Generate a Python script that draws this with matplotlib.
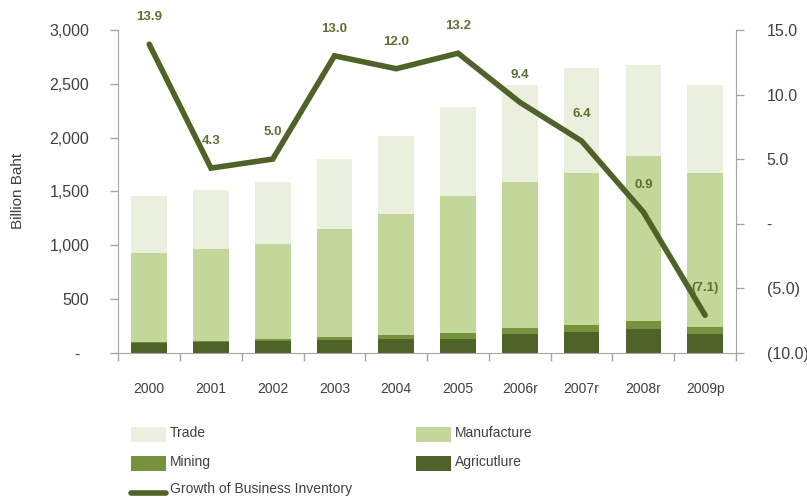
import matplotlib
matplotlib.use("Agg")
import matplotlib.pyplot as plt
from matplotlib.patches import Rectangle
from matplotlib.lines import Line2D

plt.rcParams['font.family'] = ['Liberation Sans', 'DejaVu Sans']

years = ["2000", "2001", "2002", "2003", "2004", "2005", "2006r", "2007r", "2008r", "2009p"]
agriculture = [87, 97, 106, 121, 130, 127, 174, 192, 217, 174]
mining = [12, 12, 21, 28, 35, 56, 59, 62, 81, 68]
manufacture = [825, 858, 884, 998, 1125, 1274, 1352, 1420, 1531, 1432]
trade = [533, 546, 574, 651, 725, 825, 905, 974, 847, 816]
growth = [13.9, 4.3, 5.0, 13.0, 12.0, 13.2, 9.4, 6.4, 0.9, -7.1]

left_ticks = [0, 500, 1000, 1500, 2000, 2500, 3000]
left_labels = ["-  ", "500", "1,000", "1,500", "2,000", "2,500", "3,000"]
right_ticks = [-10, -5, 0, 5, 10, 15]
right_labels = ["(10.0)", "(5.0)", "-", "5.0", "10.0", "15.0"]

c_trade = "#EBF0DE"
c_manu = "#C4D79B"
c_mining = "#76923C"
c_agri = "#4F6228"
c_line = "#4F6228"
c_label = "#5B7130"
c_text = "#404040"
c_spine = "#A6A6A6"

W, H = 807, 499
fig = plt.figure(figsize=(W / 100, H / 100), dpi=100)
ax = fig.add_axes([118.3 / W, 1 - 352.7 / H, (736 - 118.3) / W, (352.7 - 30) / H])

x = list(range(len(years)))
bw = 0.576
b1 = agriculture
b2 = [a + m for a, m in zip(b1, mining)]
b3 = [a + m for a, m in zip(b2, manufacture)]
ax.bar(x, agriculture, bw, color=c_agri, zorder=2)
ax.bar(x, mining, bw, bottom=b1, color=c_mining, zorder=2)
ax.bar(x, manufacture, bw, bottom=b2, color=c_manu, zorder=2)
ax.bar(x, trade, bw, bottom=b3, color=c_trade, zorder=2)

ax.set_xlim(-0.5, len(years) - 0.5)
ax.set_ylim(0, 3000)
ax.set_yticks(left_ticks)
ax.set_yticklabels(left_labels)
ax.set_xticks(x)
ax.set_xticklabels(years)
ax.set_xticks([i - 0.5 for i in range(len(years) + 1)], minor=True)
ax.tick_params(axis='x', which='major', length=0, pad=21, labelsize=10, colors=c_text)
ax.tick_params(axis='x', which='minor', length=6, width=1, color=c_spine, direction='out')
ax.tick_params(axis='y', length=6, width=1, color=c_spine, pad=15, labelsize=11.5, labelcolor=c_text)
for s in ["top", "right"]:
    ax.spines[s].set_visible(False)
for s in ["left", "bottom"]:
    ax.spines[s].set_color(c_spine)
ax.set_ylabel("Billion Baht", fontsize=11, color=c_text)
ax.yaxis.set_label_coords(-0.151, 0.5)

ax2 = ax.twinx()
ax2.set_ylim(-10, 15)
ax2.set_yticks(right_ticks)
ax2.set_yticklabels(right_labels)
ax2.tick_params(axis='y', length=6, width=1, color=c_spine, pad=16, labelsize=11.5, labelcolor=c_text)
for s in ["top", "left", "bottom"]:
    ax2.spines[s].set_visible(False)
ax2.spines["right"].set_color(c_spine)
ax2.plot(x, growth, color=c_line, lw=4, solid_capstyle='round', solid_joinstyle='miter', zorder=3)
for xi, g in zip(x, growth):
    txt = f"{g:.1f}" if g >= 0 else f"({abs(g):.1f})"
    ax2.annotate(txt, (xi, g), xytext=(0, 19.5), textcoords='offset points',
                 ha='center', va='center', fontsize=9.5, fontweight='bold', color=c_label)

# legend built by hand in pixel positions
def fx(px):
    return px / W

def fy(py):
    return 1 - py / H

legend_items = [
    ("Trade", c_trade, 131, 427),
    ("Manufacture", c_manu, 416, 427),
    ("Mining", c_mining, 131, 456),
    ("Agricutlure", c_agri, 416, 456),
]
for name, col, px, py in legend_items:
    fig.add_artist(Rectangle((fx(px), fy(py + 15)), fx(35), 15 / H,
                             transform=fig.transFigure, facecolor=col, edgecolor='none'))
    fig.text(fx(px + 39), fy(py + 6), name, fontsize=10, color=c_text, va='center', ha='left')

fig.add_artist(Line2D([fx(131), fx(166)], [fy(493), fy(493)], transform=fig.transFigure,
                      color=c_line, lw=4, solid_capstyle='round'))
fig.text(fx(170), fy(489), "Growth of Business Inventory", fontsize=10, color=c_text,
         va='center', ha='left')

fig.savefig("out.png", dpi=100)
